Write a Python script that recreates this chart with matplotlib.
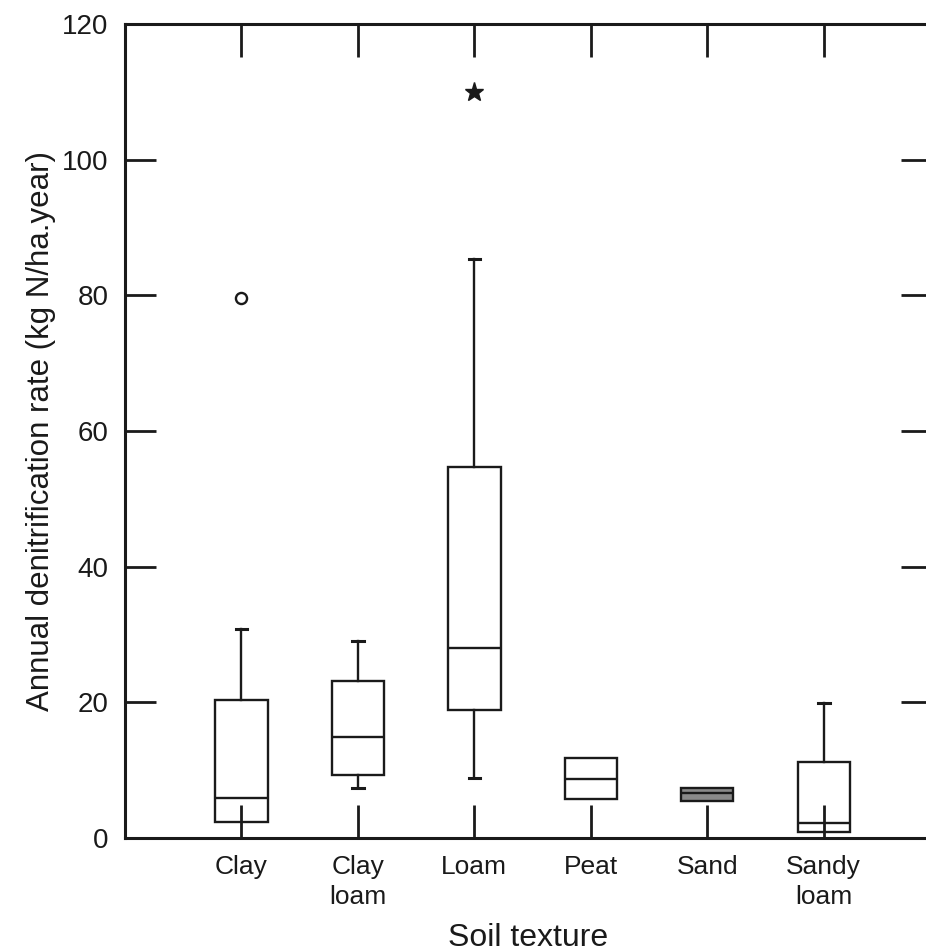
import matplotlib
matplotlib.use("Agg")
import matplotlib.pyplot as plt

# Valores (kg N/ha.year)
categorias = ["Clay", "Clay\nloam", "Loam", "Peat", "Sand", "Sandy\nloam"]
bigoteInf = [2.4, 7.4, 8.8, 5.8, 5.5, 0.9]
cuartil1 = [2.4, 9.3, 18.9, 5.8, 5.5, 0.9]
mediana = [5.9, 14.9, 28.0, 8.7, 6.6, 2.2]
cuartil3 = [20.4, 23.2, 54.7, 11.8, 7.4, 11.2]
bigoteSup = [30.8, 29.1, 85.3, 11.8, 7.4, 19.9]
atipicos = [[79.6], [], [110.0], [], [], []]
marcadores = ["o", "", "*", "", "", ""]
ticksY = [0, 20, 40, 60, 80, 100, 120]

plt.rcParams["font.family"] = ["Liberation Sans", "DejaVu Sans"]
color = "#1a1a1a"

fig = plt.figure(figsize=(9.26, 9.52), dpi=100)
ax = fig.add_axes([0.135, 0.1197, 0.8715, 0.855])

stats = []
for i in range(len(categorias)):
    stats.append({
        "whislo": bigoteInf[i], "q1": cuartil1[i], "med": mediana[i],
        "q3": cuartil3[i], "whishi": bigoteSup[i], "fliers": atipicos[i],
    })

posiciones = list(range(1, len(categorias) + 1))
bp = ax.bxp(stats, positions=posiciones, widths=0.45, capwidths=0.1,
            patch_artist=True, showfliers=True,
            boxprops=dict(facecolor="white", edgecolor=color, linewidth=1.7),
            medianprops=dict(color=color, linewidth=1.7),
            whiskerprops=dict(color=color, linewidth=1.7),
            capprops=dict(color=color, linewidth=2.2),
            flierprops=dict(markeredgecolor=color, markerfacecolor="none"))

# Sin tapa cuando el bigote no sale de la caja
for i in range(len(categorias)):
    if bigoteInf[i] >= cuartil1[i]:
        bp["caps"][2 * i].set_visible(False)
    if bigoteSup[i] <= cuartil3[i]:
        bp["caps"][2 * i + 1].set_visible(False)

for caja, m in zip(bp["fliers"], marcadores):
    if m == "o":
        caja.set_marker("o")
        caja.set_markersize(8)
        caja.set_markeredgewidth(1.7)
    elif m == "*":
        caja.set_marker("*")
        caja.set_markersize(14)
        caja.set_markerfacecolor(color)

# La caja de Sand se ve rellena en gris
bp["boxes"][4].set_facecolor("#8a8a8a")

ax.set_axisbelow(False)
ax.set_xlim(0, 6.93)
ax.set_ylim(0, 120)
ax.set_xticks(posiciones)
ax.set_xticklabels(categorias, fontsize=19, linespacing=1.35, color=color)
ax.set_yticks(ticksY)
ax.set_yticklabels([str(t) for t in ticksY], fontsize=20, color=color)

ax.tick_params(axis="x", direction="in", length=24, width=2, top=True,
               pad=12, color=color)
ax.tick_params(axis="y", direction="in", length=22, width=2, right=True,
               pad=12, color=color)
for s in ax.spines.values():
    s.set_linewidth(2.2)
    s.set_color(color)

ax.set_xlabel("Soil texture", fontsize=23, labelpad=10, color=color)
ax.set_ylabel("Annual denitrification rate (kg N/ha.year)", fontsize=22.5,
              labelpad=4, color=color)

fig.savefig("out.png", dpi=100)
plt.close()
